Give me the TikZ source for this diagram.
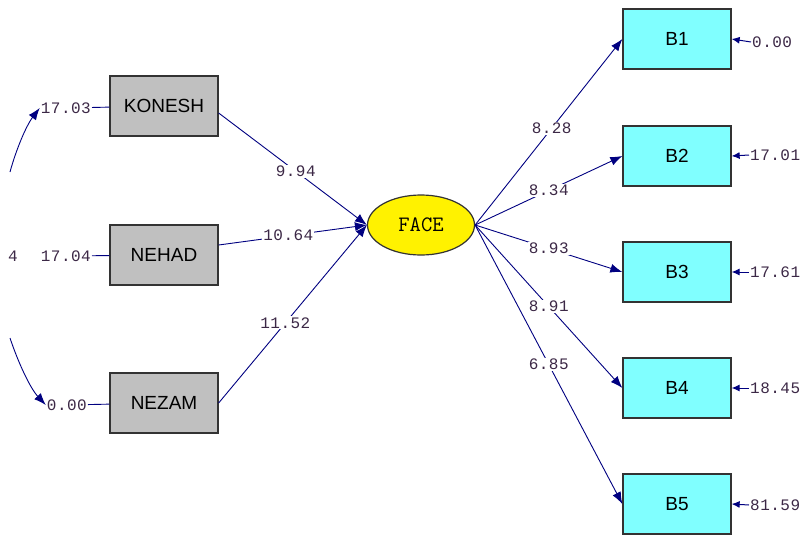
\documentclass[tikz,border=0pt]{standalone}
\usepackage{fontspec}
\setmainfont{Liberation Sans}
\newfontfamily\numfont[LetterSpace=3]{Liberation Mono}
\usetikzlibrary{arrows.meta,shapes.geometric}
\definecolor{pathblue}{RGB}{0,0,128}
\definecolor{boxgray}{RGB}{192,192,192}
\definecolor{boxcyan}{RGB}{128,255,255}
\definecolor{numcol}{RGB}{60,40,70}

\begin{document}
\begin{tikzpicture}[x=1pt, y=-1pt,
		xbox/.style={draw=black!80, line width=1.3pt, fill=boxgray, minimum width=108pt, minimum height=60pt, inner sep=0pt, font=\fontsize{19}{20}\selectfont},
		ybox/.style={xbox, fill=boxcyan},
		latent/.style={ellipse, draw=black!80, line width=1.2pt, fill=yellow, minimum width=107pt, minimum height=60pt, inner sep=0pt, font=\ttfamily\fontsize{22}{24}\selectfont},
		num/.style={text=numcol, font=\numfont\fontsize{16}{18}\selectfont, inner sep=1pt},
		lbl/.style={num, fill=white},
		link/.style={pathblue, line width=0.9pt, -{Latex[length=12pt,width=9pt]}},
		errlink/.style={pathblue, line width=1pt, -{Latex[length=8pt,width=7pt]}},
		plain/.style={pathblue, line width=0.9pt}]
				\useasboundingbox (0,0) rectangle (803,536);
				\node[xbox] (konesh) at (164,106) {KONESH};
				\node[xbox] (nehad) at (164,255) {NEHAD};
				\node[xbox] (nezam) at (164,403) {NEZAM};
				\node[latent] (face) at (421,225) {FACE};
				\node[ybox] (b1) at (677,39) {B1};
				\node[ybox] (b2) at (677,156) {B2};
				\node[ybox] (b3) at (677,272) {B3};
				\node[ybox] (b4) at (677,388) {B4};
				\node[ybox] (b5) at (677,504) {B5};

				\node[num, anchor=east] (ekonesh) at (92,108) {17.03};
				\node[num, anchor=east] (enehad) at (92,256) {17.04};
				\node[num, anchor=east] (enezam) at (88,405) {0.00};
				\node[num] (cutlabel) at (13,256) {4};
				\draw[plain] (ekonesh) -- (konesh);
				\draw[plain] (enehad) -- (nehad);
				\draw[plain] (enezam) -- (nezam);
				\coordinate (arcA) at (10,172);
				\coordinate (arcB) at (10,338);
				\draw[link] (arcA) .. controls (16,150) and (26,126) .. (ekonesh.west);
				\draw[link] (arcB) .. controls (18,362) and (30,388) .. (enezam.west);

				\draw[link] ([yshift=-7pt]konesh.east) -- (face.west) node[lbl, pos=.52] {9.94};
				\draw[link] ([yshift=10pt]nehad.east) -- (face.west) node[lbl, pos=.47] {10.64};
				\draw[link] (nezam.east) -- (face.west) node[lbl, pos=.45] {11.52};
				\draw[link] (face.east) -- (b1.west) node[lbl, pos=.52] {8.28};
				\draw[link] (face.east) -- (b2.west) node[lbl, pos=.5] {8.34};
				\draw[link] (face.east) -- (b3.west) node[lbl, pos=.5] {8.93};
				\draw[link] (face.east) -- (b4.west) node[lbl, pos=.5] {8.91};
				\draw[link] (face.east) -- (b5.west) node[lbl, pos=.5] {6.85};

				\node[num, anchor=west] (eb1) at (751,42) {0.00};
				\node[num, anchor=west] (eb2) at (749,155) {17.01};
				\node[num, anchor=west] (eb3) at (749,272) {17.61};
				\node[num, anchor=west] (eb4) at (749,388) {18.45};
				\node[num, anchor=west] (eb5) at (749,505) {81.59};
				\foreach \b in {b1,b2,b3,b4,b5}
					\draw[errlink] (e\b.west) -- (\b.east);

			\end{tikzpicture}
\end{document}
